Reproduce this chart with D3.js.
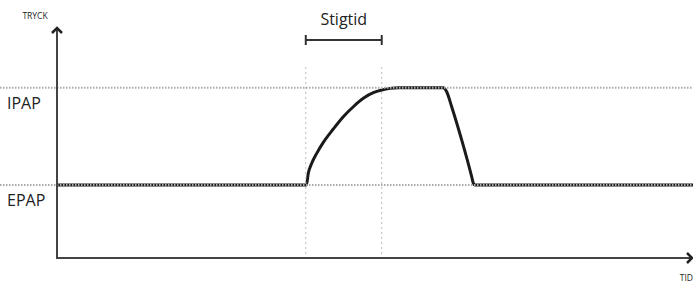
<!DOCTYPE html>
<html>
<head>
<meta charset="utf-8">
<script src="https://cdn.jsdelivr.net/npm/d3@7"></script>
<style>
  body { margin: 0; background: #fff; }
  text { font-family: "Open Sans", sans-serif; fill: #222; }
</style>
</head>
<body>
<svg width="693" height="282"></svg>
<script>
// pressure levels
const levels = [
    { name: "IPAP", value: 14 },
    { name: "EPAP", value: 6 }
];

// rise time window (start, end)
const riseTime = [39.3, 51.3];

// pressure curve: time -> pressure
const curveTime = [0, 39.4, 39.7, 40.24, 41.03, 42.07, 43.65, 45.23, 46.81, 48.39, 49.97, 51.3, 52.61, 53.9,
    61.03, 61.56, 62.35, 63.93, 65.51, 65.77, 66.0, 100.5];
const curvePressure = [6, 6, 6.96, 7.78, 8.6, 9.5, 10.6, 11.61, 12.43, 13.12, 13.58, 13.8, 13.94, 14,
    14, 13.66, 12.43, 9.7, 6.68, 6.14, 6, 6];

const axisLabels = { x: "TID", y: "TRYCK" };
const riseLabel = "Stigtid";

const svg = d3.select("svg");

const x = d3.scaleLinear().domain([0, 100]).range([57, 690]);
const y = d3.scaleLinear().domain([0, 18.9]).range([258, 28]);

const curveData = curveTime.map((t, i) => ({ t: t, p: curvePressure[i] }));

// pressure curve
const line = d3.line()
    .x(d => x(d.t))
    .y(d => y(d.p))
    .curve(d3.curveMonotoneX);

svg.append("path")
    .datum(curveData)
    .attr("d", line)
    .attr("fill", "none")
    .attr("stroke", "#1a1a1a")
    .attr("stroke-width", 3)
    .attr("stroke-linejoin", "round");

// dotted level lines
svg.selectAll(".level")
    .data(levels)
    .enter()
    .append("line")
    .attr("class", "level")
    .attr("x1", 0)
    .attr("x2", 693)
    .attr("y1", d => y(d.value))
    .attr("y2", d => y(d.value))
    .attr("stroke", "#aaa")
    .attr("stroke-width", 2)
    .attr("stroke-dasharray", "1.5,1.5");

// vertical dotted lines for rise time
svg.selectAll(".vline")
    .data(riseTime)
    .enter()
    .append("line")
    .attr("class", "vline")
    .attr("x1", d => x(d))
    .attr("x2", d => x(d))
    .attr("y1", 67)
    .attr("y2", y(0))
    .attr("stroke", "#bbb")
    .attr("stroke-width", 1)
    .attr("stroke-dasharray", "2,3");

svg.selectAll(".level-label")
    .data(levels)
    .enter()
    .append("text")
    .attr("class", "level-label")
    .attr("x", 7)
    .attr("y", d => y(d.value) + 21)
    .style("font-size", "16px")
    .text(d => d.name);

// axes
const axisColor = "#444";
svg.append("line")
    .attr("x1", x(0)).attr("x2", x(0))
    .attr("y1", y(18.9)).attr("y2", y(0))
    .attr("stroke", axisColor).attr("stroke-width", 2);

svg.append("line")
    .attr("x1", x(0) - 1).attr("x2", 692)
    .attr("y1", y(0)).attr("y2", y(0))
    .attr("stroke", axisColor).attr("stroke-width", 2);

svg.append("path")
    .attr("d", `M${x(0) - 5},${y(18.9) + 5}L${x(0)},${y(18.9)}L${x(0) + 5},${y(18.9) + 5}`)
    .attr("fill", "none").attr("stroke", "#222").attr("stroke-width", 2.5);

svg.append("path")
    .attr("d", `M687,${y(0) - 5}L692,${y(0)}L687,${y(0) + 5}`)
    .attr("fill", "none").attr("stroke", "#222").attr("stroke-width", 2.5);

svg.append("text")
    .attr("x", 35).attr("y", 19)
    .attr("text-anchor", "middle")
    .style("font-size", "8.5px")
    .text(axisLabels.y);

svg.append("text")
    .attr("x", 693).attr("y", 281)
    .attr("text-anchor", "end")
    .style("font-size", "8.5px")
    .text(axisLabels.x);

// rise time bracket
const bracketY = 40;
const bracket = svg.append("g")
    .attr("stroke", "#333")
    .attr("stroke-width", 2);
bracket.append("line")
    .attr("x1", x(riseTime[0])).attr("x2", x(riseTime[1]))
    .attr("y1", bracketY).attr("y2", bracketY);
bracket.selectAll(".cap")
    .data(riseTime)
    .enter()
    .append("line")
    .attr("class", "cap")
    .attr("x1", d => x(d)).attr("x2", d => x(d))
    .attr("y1", bracketY - 5).attr("y2", bracketY + 5);

svg.append("text")
    .attr("x", (x(riseTime[0]) + x(riseTime[1])) / 2)
    .attr("y", 25)
    .attr("text-anchor", "middle")
    .style("font-size", "16px")
    .text(riseLabel);
</script>
</body>
</html>
